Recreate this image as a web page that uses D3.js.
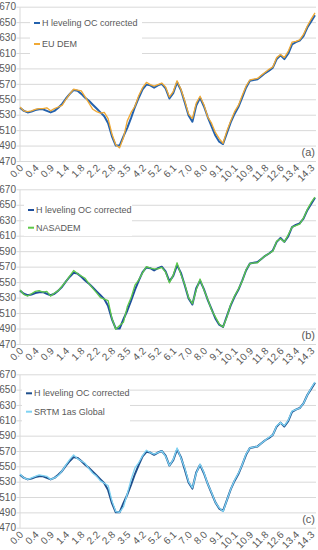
<!DOCTYPE html>
<html><head><meta charset="utf-8">
<script src="https://cdn.jsdelivr.net/npm/d3@7/dist/d3.min.js"></script>
<style>
html,body{margin:0;padding:0;background:#fff;}
svg{display:block;font-family:"Liberation Sans",Arial,sans-serif;}
</style></head>
<body>
<svg id="chart" width="318" height="550"></svg>
<script>
const distances = ["0.0","0.1","0.2","0.3","0.4","0.5","0.7","0.8","0.9","1.0","1.1","1.3","1.4","1.5","1.6","1.7","1.8","1.9","2.0","2.1","2.2","2.4","2.5","2.7","2.8","3.0","3.2","3.3","3.5","3.7","3.9","4.0","4.2","4.5","4.7","5.0","5.2","5.4","5.7","5.9","6.1","6.3","6.5","6.8","7.0","7.2","7.5","7.7","8.0","8.3","8.5","8.8","9.1","9.4","9.6","9.9","10.1","10.3","10.5","10.7","10.9","11.1","11.4","11.6","11.8","12.0","12.2","12.4","12.6","12.8","13.0","13.2","13.4","13.6","13.9","14.1","14.3","14.5"];
const xTickLabels = ["0.0","0.4","0.9","1.4","1.8","2.2","2.8","3.5","4.2","5.2","6.1","7.0","8.0","9.1","10.1","10.9","11.8","12.6","13.4","14.3"];
const yTicks = [470,490,510,530,550,570,590,610,630,650,670];
const hLeveling = [539,535,533,534,536,537,537,535,533,535,539,544,551,557,562,561,557,552,548,543,538,533,528,519,502,490,490,502,513,526,540,552,563,569,568,565,568,570,564,551,558,572,562,546,529,521,542,552,541,527,515,503,495,492,506,520,531,540,552,565,574,575,576,580,584,587,591,602,607,602,609,621,624,626,632,643,651,659];
const euDem = [540,535,534,535,537,538,538,539,535,538,540,542,550,557,563,562,561,553,545,537,534,532,533,525,505,491,487,500,522,533,541,555,565,572,569,567,569,571,566,553,560,574,563,548,531,525,545,554,543,527,519,507,499,493,509,522,534,542,555,567,575,576,577,581,585,589,592,604,608,604,612,624,625,627,634,645,654,662];
const nasadem = [540,534,532,535,538,539,537,538,532,536,539,545,551,558,565,561,558,555,548,542,536,530,528,526,503,489,494,498,518,530,546,553,562,570,568,567,567,569,563,549,559,575,560,547,530,522,540,554,540,528,514,505,496,492,505,521,532,541,551,566,574,575,575,580,584,587,590,603,606,602,611,621,623,625,633,644,653,660];
const srtm = [540,535,533,535,537,539,538,537,533,535,538,544,552,559,565,560,557,554,547,541,537,531,528,525,505,491,490,497,514,533,548,555,564,571,568,566,568,570,563,551,559,574,561,548,530,522,541,553,542,527,516,503,496,491,506,520,532,541,552,566,574,575,576,580,584,588,591,603,607,603,610,622,624,626,632,643,652,660];
const seriesNames = ["H leveling OC corrected","EU DEM","NASADEM","SRTM 1as Global"];

const panels = [
  {dem: euDem, name: seriesNames[1], hColor: "#2462ad", dColor: "#f0a935", top: 6.7, bottom: 161, tag: "(a)", leg: {x: 30, y: 12, w: 112, h: 42, y1: 23, y2: 44}},
  {dem: nasadem, name: seriesNames[2], hColor: "#1f4f9c", dColor: "#5ec94a", top: 189.3, bottom: 344, tag: "(b)", leg: {x: 24, y: 198, w: 108, h: 38, y1: 210, y2: 227.7}},
  {dem: srtm, name: seriesNames[3], hColor: "#1f4f8c", dColor: "#7fd3f3", top: 374.3, bottom: 527.7, tag: "(c)", leg: {x: 22, y: 381, w: 108, h: 42, y1: 393.3, y2: 411.7}}
];

const svg = d3.select("#chart");
svg.append("rect").attr("width", 318).attr("height", 550).attr("fill", "#fff");
const left = 19.5, right = 316;
const x = d3.scalePoint().domain(distances).range([20, 315]);
const textCol = "#595959";

panels.forEach(p => {
  const g = svg.append("g");
  const y = d3.scaleLinear().domain([470, 670]).range([p.bottom, p.top]);
  const ya = g.append("g").attr("transform", `translate(${left},0)`)
    .call(d3.axisLeft(y).tickValues(yTicks).tickSizeInner(-(right - left)).tickSizeOuter(0).tickPadding(6).tickFormat(d3.format("d")));
  ya.select(".domain").attr("stroke", "#d9d9d9");
  ya.selectAll(".tick line").attr("stroke", "#d9d9d9").attr("x1", -3);
  ya.selectAll(".tick text").attr("fill", textCol).style("font-size", "10px").attr("x", -3.5);
  const xa = g.append("g").attr("transform", `translate(0,${p.bottom})`)
    .call(d3.axisBottom(x).tickValues(xTickLabels).tickSize(0));
  xa.select(".domain").remove();
  xa.selectAll(".tick text").attr("fill", textCol).style("font-size", "10px")
    .attr("text-anchor", "end").attr("dy", 0).attr("y", 0)
    .attr("transform", "translate(3.5,7.5) rotate(-45)");
  const line = d3.line().x((d, i) => x(distances[i])).y(d => y(d));
  g.append("path").datum(hLeveling).attr("d", line).attr("fill", "none")
    .attr("stroke", p.hColor).attr("stroke-width", 2).attr("stroke-linejoin", "round");
  g.append("path").datum(p.dem).attr("d", line).attr("fill", "none")
    .attr("stroke", p.dColor).attr("stroke-width", 1.3).attr("stroke-linejoin", "round");
  const L = p.leg;
  g.append("rect").attr("x", L.x).attr("y", L.y).attr("width", L.w).attr("height", L.h).attr("fill", "#fff");
  const items = [{n: seriesNames[0], c: p.hColor, yy: L.y1}, {n: p.name, c: p.dColor, yy: L.y2}];
  items.forEach(it => {
    g.append("line").attr("x1", L.x + 4).attr("x2", L.x + 10).attr("y1", it.yy).attr("y2", it.yy)
      .attr("stroke", it.c).attr("stroke-width", 2);
    g.append("text").attr("x", L.x + 12).attr("y", it.yy).attr("dy", "0.35em")
      .attr("fill", textCol).style("font-size", "9px").text(it.n);
  });
  g.append("text").attr("x", 315).attr("y", p.bottom - 5).attr("text-anchor", "end")
    .attr("fill", textCol).style("font-size", "11px").text(p.tag);
});
</script>
</body></html>
